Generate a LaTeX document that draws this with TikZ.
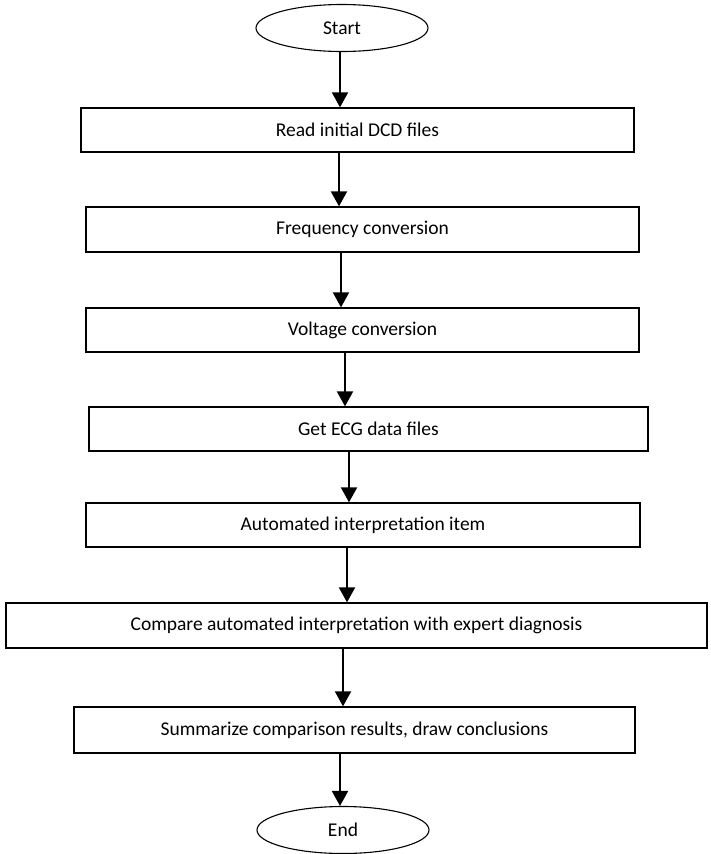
\documentclass[tikz,border=0pt]{standalone}
\usepackage{fontspec}
\setmainfont{Carlito}
\usetikzlibrary{arrows.meta,positioning,shapes.geometric}
\definecolor{inkBlack}{RGB}{0,0,0}

\begin{document}
\begin{tikzpicture}[x=1pt, y=-1pt,
    stepBox/.style={draw=inkBlack, line width=1.3pt, inner sep=0pt, font=\fontsize{19.5pt}{23pt}\selectfont},
    termNode/.style={ellipse, draw=inkBlack, line width=1.1pt, inner sep=0pt, minimum width=172pt, minimum height=47pt, font=\fontsize{19.5pt}{23pt}\selectfont},
    flowArrow/.style={-{Triangle[width=16pt,length=15pt]}, line width=2pt, draw=inkBlack}]
  \useasboundingbox (0,0) rectangle (710,854);
  % terminals and steps
  \node[termNode] (startNode) at (342,28) {Start};
  \node[stepBox, minimum width=553pt, minimum height=44pt] (readDcd) at (357.5,130) {Read initial DCD files};
  \node[stepBox, minimum width=553pt, minimum height=45pt] (freqConv) at (362.5,229.5) {Frequency conversion};
  \node[stepBox, minimum width=553pt, minimum height=44pt] (voltConv) at (362.5,330) {Voltage conversion};
  \node[stepBox, minimum width=559pt, minimum height=44pt] (getEcg) at (368.5,429) {Get ECG data files};
  \node[stepBox, minimum width=554pt, minimum height=44pt] (autoItem) at (363,525) {Automated interpretation item};
  \node[stepBox, minimum width=701pt, minimum height=45pt] (compareDx) at (356.5,625.5) {Compare automated interpretation with expert diagnosis};
  \node[stepBox, minimum width=561pt, minimum height=46pt] (summary) at (354.5,730) {Summarize comparison results, draw conclusions};
  \node[termNode] (endNode) at (343,830) {End};
  % connectors
  \draw[flowArrow] ([xshift=-2pt]startNode.south) -- ([xshift=-2pt]startNode.south |- readDcd.north);
  \draw[flowArrow] ([xshift=-18.5pt]readDcd.south) -- ([xshift=-18.5pt]readDcd.south |- freqConv.north);
  \draw[flowArrow] ([xshift=-21.5pt]freqConv.south) -- ([xshift=-21.5pt]freqConv.south |- voltConv.north);
  \draw[flowArrow] ([xshift=-17.5pt]voltConv.south) -- ([xshift=-17.5pt]voltConv.south |- getEcg.north);
  \draw[flowArrow] ([xshift=-19.5pt]getEcg.south) -- ([xshift=-19.5pt]getEcg.south |- autoItem.north);
  \draw[flowArrow] ([xshift=-16pt]autoItem.south) -- ([xshift=-16pt]autoItem.south |- compareDx.north);
  \draw[flowArrow] ([xshift=-13.5pt]compareDx.south) -- ([xshift=-13.5pt]compareDx.south |- summary.north);
  \draw[flowArrow] ([xshift=-14.5pt]summary.south) -- ([xshift=-14.5pt]summary.south |- endNode.north);
\end{tikzpicture}
\end{document}
